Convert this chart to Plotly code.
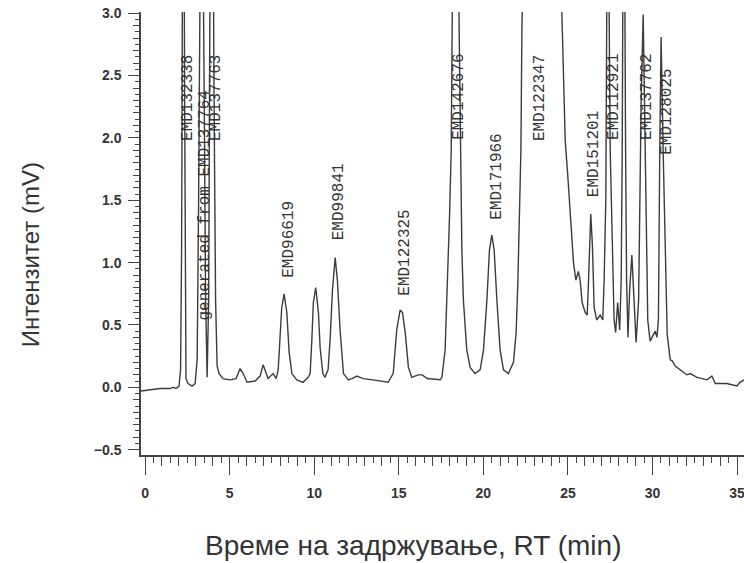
import plotly.graph_objects as go

# Retention time (min) and detector signal (mV)
rt = [-0.24, 0.30, 0.89, 1.48, 1.66, 1.83, 2.01, 2.10, 2.16, 2.19, 2.25, 2.34, 2.37, 2.42, 2.54, 2.78,
      2.96, 3.08, 3.16, 3.22, 3.34, 3.49, 3.58, 3.67, 3.76, 3.81, 3.93, 4.08, 4.17, 4.26, 4.38, 4.61,
      5.03, 5.38, 5.62, 5.80, 6.03, 6.51, 6.80, 6.98, 7.16, 7.27, 7.57, 7.75, 7.87, 7.98, 8.08, 8.22,
      8.38, 8.52, 8.68, 8.97, 9.34, 9.64, 9.76, 9.86, 9.95, 10.09, 10.25, 10.35, 10.51, 10.64, 10.82,
      10.94, 11.08, 11.24, 11.37, 11.53, 11.73, 12.02, 12.24, 12.52, 12.89, 13.48, 14.37, 14.67, 14.88,
      15.08, 15.22, 15.38, 15.57, 15.77, 16.14, 16.38, 16.68, 17.45, 17.55, 17.74, 17.88, 18.00, 18.10,
      18.19, 18.39, 18.57, 18.66, 18.73, 18.82, 19.02, 19.22, 19.51, 19.81, 20.01, 20.21, 20.36, 20.50,
      20.64, 20.80, 20.99, 21.19, 21.48, 21.78, 21.94, 22.04, 22.13, 22.22, 22.28, 22.47, 23.06, 23.83,
      24.36, 24.64, 24.72, 24.84, 25.01, 25.19, 25.33, 25.47, 25.62, 25.72, 25.84, 26.02, 26.14, 26.22,
      26.35, 26.45, 26.55, 26.70, 26.91, 27.06, 27.14, 27.24, 27.35, 27.50, 27.61, 27.73, 27.82, 27.94,
      28.06, 28.15, 28.21, 28.30, 28.41, 28.47, 28.55, 28.65, 28.78, 28.89, 29.03, 29.18, 29.33, 29.45,
      29.57, 29.72, 29.86, 30.04, 30.16, 30.26, 30.35, 30.43, 30.51, 30.63, 30.75, 30.87, 31.05, 31.18,
      31.34, 31.54, 31.74, 32.03, 32.23, 32.63, 33.22, 33.51, 33.71, 34.40, 34.99, 35.17, 35.41]
signal = [-0.03, -0.02, -0.01, -0.01, 0.00, -0.01, 0.01, 0.14, 1.10, 2.30, 6.0, 2.30, 1.10, 0.07, 0.03, 0.01,
          0.03, 0.22, 1.40, 2.79, 5.0, 2.46, 0.70, 0.08, 0.70, 2.30, 6.0, 2.30, 0.70, 0.17, 0.11, 0.07,
          0.06, 0.07, 0.15, 0.11, 0.04, 0.05, 0.09, 0.18, 0.12, 0.07, 0.11, 0.07, 0.14, 0.38, 0.64, 0.75,
          0.60, 0.28, 0.11, 0.06, 0.04, 0.08, 0.11, 0.38, 0.68, 0.80, 0.60, 0.32, 0.11, 0.08, 0.14,
          0.38, 0.78, 1.04, 0.86, 0.46, 0.11, 0.06, 0.07, 0.09, 0.07, 0.06, 0.04, 0.11, 0.46,
          0.62, 0.60, 0.44, 0.16, 0.08, 0.10, 0.10, 0.07, 0.06, 0.08, 0.30, 0.84, 1.37, 1.90,
          2.87, 7.0, 2.87, 1.90, 1.10, 0.70, 0.30, 0.16, 0.11, 0.14, 0.30, 0.70, 1.10, 1.22,
          1.10, 0.70, 0.30, 0.14, 0.11, 0.20, 0.44, 0.84, 1.37, 1.90, 2.87, 6.0, 9.0, 7.5,
          4.0, 3.01, 2.62, 1.98, 1.66, 1.30, 1.00, 0.86, 0.93, 0.86, 0.68, 0.60, 0.58, 0.86,
          1.39, 1.13, 0.64, 0.54, 0.58, 0.54, 0.86, 1.50, 4.5, 1.90, 1.10, 0.54, 0.44, 0.68,
          0.46, 0.86, 1.90, 5.0, 1.90, 0.86, 0.40, 0.78, 1.06, 0.78, 0.36, 0.70, 2.30, 2.99,
          1.90, 0.54, 0.37, 0.42, 0.45, 0.40, 0.54, 1.90, 2.81, 1.90, 1.10, 0.42, 0.22, 0.21,
          0.17, 0.15, 0.13, 0.10, 0.11, 0.08, 0.06, 0.09, 0.03, 0.03, 0.01, 0.04, 0.06]

# Peak labels and where they sit (label centre RT, label bottom in mV)
peak_names = ["EMD132338", "generated from EMD137764", "EMD137763", "EMD96619", "EMD99841",
              "EMD122325", "EMD142676", "EMD171966", "EMD122347", "EMD151201", "EMD112921",
              "EMD137762", "EMD128025"]
peak_label_rt = [2.54, 3.55, 4.20, 8.46, 11.47, 15.32, 18.57, 20.82, 23.36, 26.55, 27.68, 29.63, 30.81]
peak_label_base = [1.96, 0.52, 1.96, 0.86, 1.16, 0.72, 1.97, 1.33, 1.96, 1.51, 1.97, 1.97, 1.85]

x_range = [-0.24, 35.41]
y_range = [-0.543, 3.01]

fig = go.Figure()
fig.add_trace(go.Scatter(x=rt, y=signal, mode="lines",
                         line=dict(color="#3c3c3c", width=1.4),
                         hoverinfo="skip", showlegend=False))
# helper trace so the overlay axes (medium ticks) are drawn
fig.add_trace(go.Scatter(x=[x_range[0]], y=[y_range[0]], xaxis="x2", yaxis="y2",
                         mode="markers", marker=dict(opacity=0), hoverinfo="skip",
                         showlegend=False))

axis_col = "#444444"
tick_font = dict(family="Liberation Sans", size=14, color="#333333", weight="bold")

fig.update_layout(
    width=744, height=563,
    margin=dict(l=141, r=0, t=12, b=108),
    paper_bgcolor="white", plot_bgcolor="white",
    xaxis=dict(range=x_range, showgrid=False, zeroline=False, showline=True,
               linecolor=axis_col, linewidth=1.5, ticks="outside", ticklen=18,
               tickwidth=1.3, tickcolor=axis_col, dtick=5, tick0=0,
               tickfont=tick_font, ticklabelstandoff=6, ticklabeloverflow="allow",
               minor=dict(dtick=0.5, tick0=0, ticklen=6, tickcolor=axis_col,
                          tickwidth=1.1, ticks="outside", showgrid=False)),
    xaxis2=dict(range=x_range, overlaying="x", anchor="y", side="bottom",
                showgrid=False, zeroline=False, showline=False, ticks="outside",
                ticklen=10, tickwidth=1.1, tickcolor=axis_col, dtick=1, tick0=0,
                showticklabels=False),
    yaxis=dict(range=y_range, showgrid=False, zeroline=False, showline=True,
               linecolor=axis_col, linewidth=1.5, ticks="outside", ticklen=11,
               tickwidth=1.3, tickcolor=axis_col, dtick=0.5, tick0=0,
               tickformat=".1f", tickfont=tick_font, ticklabelstandoff=4,
               ticklabeloverflow="allow",
               minor=dict(dtick=0.05, tick0=0, ticklen=4, tickcolor=axis_col,
                          tickwidth=1.0, ticks="outside", showgrid=False)),
    yaxis2=dict(range=y_range, overlaying="y", anchor="x", side="left",
                showgrid=False, zeroline=False, showline=False, ticks="outside",
                ticklen=7, tickwidth=1.1, tickcolor=axis_col, dtick=0.1, tick0=0,
                showticklabels=False),
)

for name, xr, yb in zip(peak_names, peak_label_rt, peak_label_base):
    fig.add_annotation(x=xr, y=yb, xref="x", yref="y", text=name, showarrow=False,
                       textangle=-90, xanchor="center", yanchor="bottom",
                       font=dict(family="Liberation Mono", size=16, color="#333333"))

fig.add_annotation(text="Интензитет (mV)", xref="paper", yref="paper",
                   x=-0.184, y=0.451, showarrow=False, textangle=-90,
                   xanchor="center", yanchor="middle",
                   font=dict(family="Liberation Sans", size=24, color="#333333"))
fig.add_annotation(text="Време на задржување, RT (min)", xref="paper", yref="paper",
                   x=0.451, y=-0.205, showarrow=False,
                   xanchor="center", yanchor="middle",
                   font=dict(family="Liberation Sans", size=28, color="#333333"))

fig.write_html("out.html")
